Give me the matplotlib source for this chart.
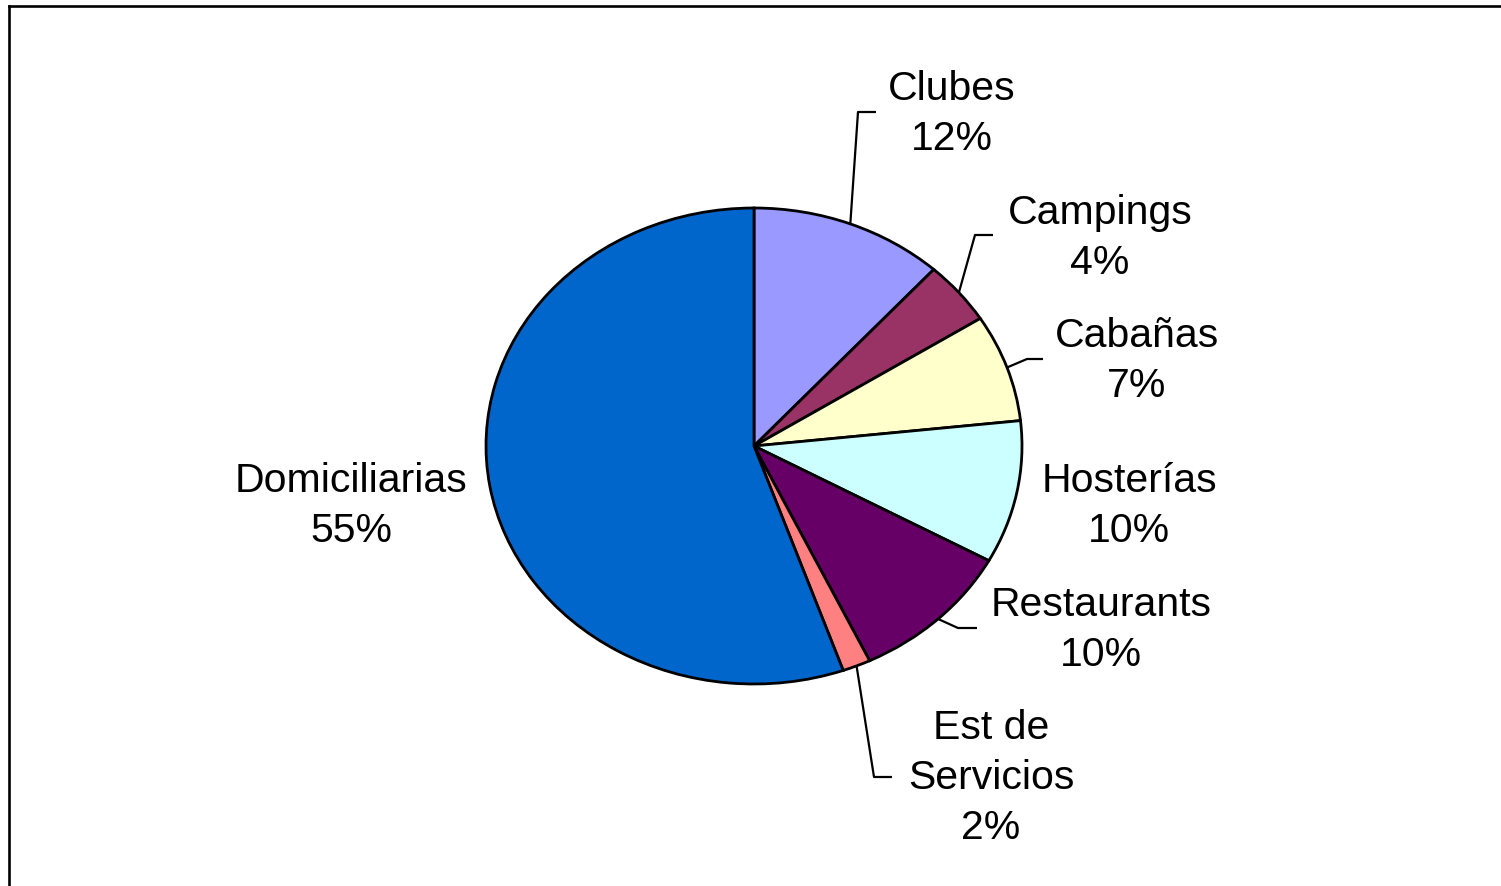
import numpy as np
import matplotlib
matplotlib.use("Agg")
import matplotlib.pyplot as plt
from matplotlib.lines import Line2D

categories = ["Clubes", "Campings", "Cabañas", "Hosterías", "Restaurants",
              "Est de\nServicios", "Domiciliarias"]
values = [11.7, 4.3, 7.3, 9.7, 9.9, 1.7, 55.4]
colors = ["#9999FF", "#993366", "#FFFFCC", "#CCFFFF", "#660066", "#FF8080", "#0066CC"]

W, H = 1501, 886
fig = plt.figure(figsize=(W / 100, H / 100), dpi=100)
ax = fig.add_axes([0, 0, 1, 1])

# pixel geometry of the ellipse-shaped pie
cx, cy = 754, 446
rx, ry = 268, 238

wedges, _ = ax.pie(values, colors=colors, startangle=90, counterclock=False,
                   radius=1.0, center=(0, 0),
                   wedgeprops=dict(edgecolor="black", linewidth=2.0))
ax.set_aspect("auto")
ax.set_xlim(-cx / rx, (W - cx) / rx)
ax.set_ylim((cy - H) / ry, cy / ry)
ax.axis("off")


def px(x, y):
    """pixel coordinates -> data coordinates"""
    return (x - cx) / rx, (cy - y) / ry


# label block centres (pixels) and leader line elbows
label_pos = [(952, 114), (1100, 238), (1137, 361), (1129, 506),
             (1101, 630), (991, 778), (351, 506)]
leaders = [
    [(858, 112), (876, 112)],
    [(975, 235), (993, 235)],
    [(1027, 359), (1043, 359)],
    None,
    [(958, 628), (977, 628)],
    [(874, 777), (892, 777)],
    None,
]

font = dict(family=["Liberation Sans", "DejaVu Sans"], fontsize=29.5)
total = sum(values)
for w, cat, v, lp, ld in zip(wedges, categories, values, label_pos, leaders):
    txt = f"{cat}\n{round(v / total * 100):d}%"
    x, y = px(*lp)
    ax.text(x, y, txt, ha="center", va="center", linespacing=1.40,
            color="black", **font)
    if ld is not None:
        ang = np.deg2rad((w.theta1 + w.theta2) / 2)
        pts = [(np.cos(ang) * 1.0, np.sin(ang) * 1.0)] + [px(*p) for p in ld]
        xs, ys = zip(*pts)
        ax.plot(xs, ys, color="black", linewidth=1.6, solid_capstyle="butt")

# chart area frame (top and left visible)
fig.add_artist(Line2D([8.5 / W, 1.0], [1 - 6 / H, 1 - 6 / H], color="black",
                      linewidth=1.9, transform=fig.transFigure))
fig.add_artist(Line2D([8.5 / W, 8.5 / W], [0, 1 - 6 / H], color="black",
                      linewidth=1.9, transform=fig.transFigure))

fig.savefig("out.png", dpi=100, facecolor="white")
